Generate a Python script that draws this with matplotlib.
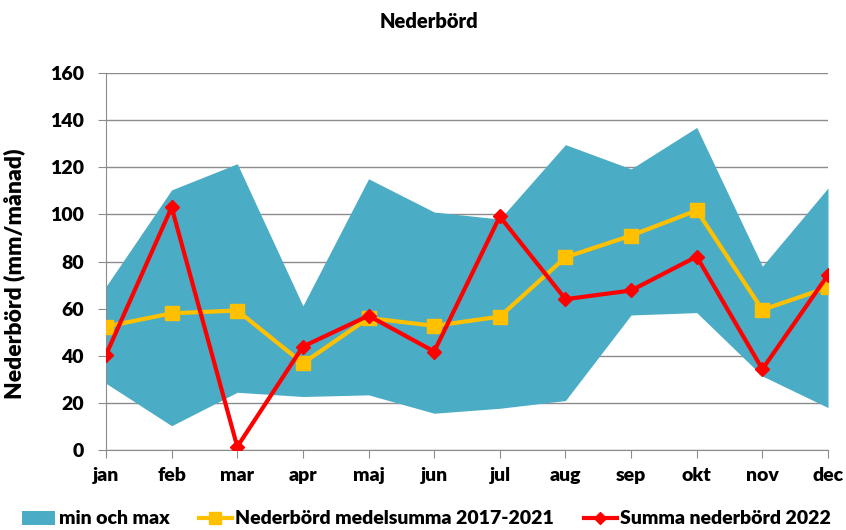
import matplotlib
matplotlib.use("Agg")
import matplotlib.pyplot as plt
from matplotlib.patches import Patch
from matplotlib.lines import Line2D

months = ["jan", "feb", "mar", "apr", "maj", "jun", "jul", "aug", "sep", "okt", "nov", "dec"]
band_min = [28.3, 10.3, 24.5, 22.7, 23.4, 15.6, 17.7, 21.0, 57.3, 58.3, 31.4, 18.0]
band_max = [69.4, 110.4, 121.5, 61.2, 115.1, 101.0, 98.0, 129.6, 119.3, 136.9, 78.0, 111.2]
medel = [52.4, 58.0, 59.2, 36.8, 56.0, 52.7, 56.6, 81.8, 91.0, 101.7, 59.5, 69.0]
summa_2022 = [40.4, 103.0, 1.4, 43.9, 57.0, 41.8, 99.1, 64.0, 67.7, 82.1, 34.3, 74.3]
yticks = [0, 20, 40, 60, 80, 100, 120, 140, 160]

plt.rcParams['font.family'] = ['Lato', 'DejaVu Sans']
W, H = 846, 530
fig = plt.figure(figsize=(W / 100, H / 100), dpi=100)
ax = fig.add_axes([106 / W, 1 - 450 / H, (828 - 106) / W, (450 - 73) / H])

x = list(range(len(months)))
ax.fill_between(x, band_min, band_max, color="#4BACC6", linewidth=0, zorder=2)
ax.plot(x, medel, color="#FFC000", linewidth=3, marker="s", markersize=10, zorder=3)
ax.plot(x, summa_2022, color="#FF0000", linewidth=3, marker="D", markersize=7, zorder=4)

ax.set_xlim(0, len(months) - 1)
ax.set_ylim(0, 160)
ax.set_yticks(yticks)
ax.set_xticks(x)
ax.set_xticklabels(months, fontsize=14, fontweight="heavy")
ax.set_yticklabels([str(v) for v in yticks], fontsize=14, fontweight="heavy")
ax.yaxis.grid(True, color="#8c8c8c", linewidth=1, zorder=0)
ax.set_axisbelow(True)
for s in ["top", "right"]:
    ax.spines[s].set_visible(False)
for s in ["left", "bottom"]:
    ax.spines[s].set_color("#8c8c8c")
ax.tick_params(axis="both", color="#8c8c8c", length=6, direction="out")
ax.tick_params(axis="y", pad=10)
ax.tick_params(axis="x", pad=6)

ax.set_ylabel("Nederbörd (mm/månad)", fontsize=16.5, fontweight="heavy")
ax.yaxis.set_label_coords(-0.112, 0.467)
fig.text(429 / W, 1 - 22 / H, "Nederbörd", ha="center", va="center", fontsize=14.5, fontweight="heavy")

handles = [
    Patch(facecolor="#4BACC6", edgecolor="none"),
    Line2D([], [], color="#FFC000", linewidth=3, marker="s", markersize=8),
    Line2D([], [], color="#FF0000", linewidth=3, marker="D", markersize=6),
]
labels = ["min och max", "Nederbörd medelsumma 2017-2021", "Summa nederbörd 2022"]
fig.legend(handles, labels, loc="center", bbox_to_anchor=(426.5 / W, 1 - 519 / H), ncol=3,
           frameon=False, prop={"weight": "heavy", "size": 14}, handlelength=1.7,
           handletextpad=0.2, columnspacing=1.5, borderaxespad=0, borderpad=0)

fig.savefig("out.png", dpi=100)
